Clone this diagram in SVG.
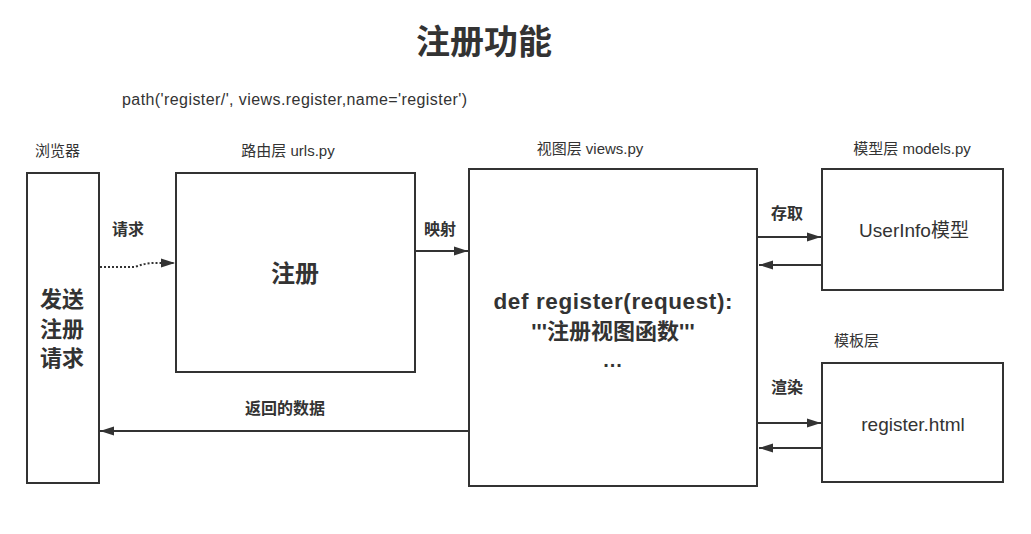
<svg xmlns="http://www.w3.org/2000/svg" width="1031" height="534" viewBox="0 0 1031 534">
<style>
text{font-family:"Liberation Sans","Noto Sans CJK SC",sans-serif;fill:#333}
.box{fill:#fff;stroke:#333;stroke-width:2}
.lbl{font-size:15px}
.b{font-weight:bold}
.edge{stroke:#333;stroke-width:2;fill:none}
</style>
<defs>
<marker id="ahb" viewBox="0 0 14 10" refX="14" refY="5" markerWidth="14" markerHeight="10" orient="auto" markerUnits="userSpaceOnUse">
<path d="M0,0.5 L14,5 L0,9.5 z" fill="#333"/>
</marker>
</defs>
<rect width="1031" height="534" fill="#fff"/>
<text x="484" y="54" font-size="34" font-weight="bold" text-anchor="middle">注册功能</text>
<text x="122" y="105" font-size="16" textLength="345" lengthAdjust="spacing">path('register/', views.register,name='register')</text>
<g id="browser">
<text x="35" y="156" class="lbl">浏览器</text>
<rect class="box" x="27" y="173" width="72" height="310"/>
<text x="62" y="307" font-size="22" class="b" text-anchor="middle">发送</text>
<text x="62" y="337" font-size="22" class="b" text-anchor="middle">注册</text>
<text x="62" y="366" font-size="22" class="b" text-anchor="middle">请求</text>
</g>
<g id="urls">
<text x="288" y="156" class="lbl" text-anchor="middle">路由层 urls.py</text>
<rect class="box" x="176" y="173" width="239" height="199"/>
<text x="295" y="282" font-size="24" class="b" text-anchor="middle">注册</text>
</g>
<g id="views">
<text x="590" y="154" class="lbl" text-anchor="middle">视图层 views.py</text>
<rect class="box" x="469" y="169" width="288" height="317"/>
<text x="613" y="309" font-size="22.5" class="b" text-anchor="middle" textLength="239" lengthAdjust="spacing">def register(request):</text>
<text x="613" y="339" font-size="22" class="b" text-anchor="middle">'''注册视图函数'''</text>
<text x="613" y="367" font-size="20" class="b" text-anchor="middle" letter-spacing="1">...</text>
</g>
<g id="models">
<text x="912" y="154" class="lbl" text-anchor="middle">模型层 models.py</text>
<rect class="box" x="822" y="169" width="181" height="121"/>
<text x="914" y="237" font-size="19" text-anchor="middle">UserInfo模型</text>
</g>
<g id="templates">
<text x="834" y="346" class="lbl">模板层</text>
<rect class="box" x="822" y="363" width="181" height="119"/>
<text x="913" y="431" font-size="19" text-anchor="middle">register.html</text>
</g>
<g id="connectors">
<path d="M100,267 L135,267 Q145,263 155,263 L175,263" class="edge" stroke-dasharray="2,2" marker-end="url(#ahb)"/>
<text x="112" y="235" font-size="16" class="b">请求</text>
<line x1="416" y1="251" x2="468" y2="251" class="edge" marker-end="url(#ahb)"/>
<text x="424" y="235" font-size="16" class="b">映射</text>
<line x1="758" y1="237" x2="821" y2="237" class="edge" marker-end="url(#ahb)"/>
<line x1="821" y1="265" x2="759" y2="265" class="edge" marker-end="url(#ahb)"/>
<text x="771" y="219" font-size="16" class="b">存取</text>
<line x1="758" y1="423" x2="821" y2="423" class="edge" marker-end="url(#ahb)"/>
<line x1="821" y1="448" x2="759" y2="448" class="edge" marker-end="url(#ahb)"/>
<text x="771" y="393" font-size="16" class="b">渲染</text>
<line x1="468" y1="431" x2="100" y2="431" class="edge" marker-end="url(#ahb)"/>
<text x="285" y="414" font-size="16" class="b" text-anchor="middle">返回的数据</text>
</g>
</svg>
